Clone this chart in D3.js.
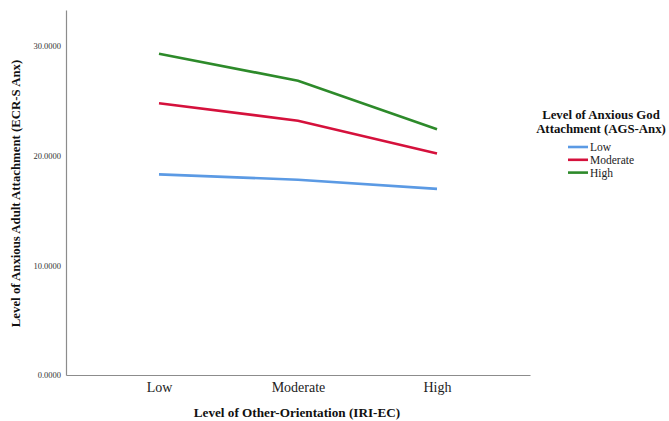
<!DOCTYPE html>
<html><head><meta charset="utf-8">
<script src="https://cdn.jsdelivr.net/npm/d3@7"></script>
<style>body{margin:0;background:#fff}svg{display:block}text{font-family:"Liberation Serif","Times New Roman",serif}</style>
</head><body>
<script>
const categories = ["Low", "Moderate", "High"];
const seriesNames = ["Low", "Moderate", "High"];
const lowValues = [18.3, 17.82, 16.98];
const moderateValues = [24.8, 23.2, 20.2];
const highValues = [29.3, 26.85, 22.42];
const yTicks = [0, 10, 20, 30];
const colors = ["#5b9ae4", "#d5113c", "#2d8a2a"];
const series = [lowValues, moderateValues, highValues];

const W = 669, H = 421;
const svg = d3.select("body").append("svg").attr("width", W).attr("height", H);
const mLeft = 66, mRight = 530, mTop = 10, mBottom = 375;

const x = d3.scalePoint().domain(categories).range([mLeft, mRight]).padding(0.669);
const y = d3.scaleLinear().domain([0, 33.3]).range([mBottom, mTop]);

// axes
const xAxis = d3.axisBottom(x).tickSize(0).tickPadding(7);
const gx = svg.append("g").attr("transform", `translate(0,${mBottom})`).call(xAxis);
gx.select(".domain").attr("stroke", "#8c8c8c").attr("stroke-width", 1.2);
gx.selectAll("text").attr("font-size", 14).attr("fill", "#222")
  .attr("font-family", "Liberation Serif, serif");

const yAxis = d3.axisLeft(y).tickValues(yTicks).tickSize(0).tickPadding(5)
  .tickFormat(d3.format(".4f"));
const gy = svg.append("g").attr("transform", `translate(${mLeft},0)`).call(yAxis);
gy.select(".domain").attr("stroke", "#8c8c8c").attr("stroke-width", 1.2);
gy.selectAll("text").attr("font-size", 8.5).attr("fill", "#333")
  .attr("font-family", "Liberation Serif, serif");

// lines
const line = d3.line().x((d, i) => x(categories[i])).y(d => y(d));
series.forEach((s, i) => {
  svg.append("path").datum(s).attr("d", line).attr("fill", "none")
    .attr("stroke", colors[i]).attr("stroke-width", 2.6);
});

// axis titles
svg.append("text").attr("x", 297).attr("y", 417).attr("text-anchor", "middle")
  .attr("font-size", 13.2).attr("font-weight", "bold").attr("fill", "#111")
  .text("Level of Other-Orientation (IRI-EC)");
svg.append("text").attr("transform", `translate(20,${(mTop + mBottom) / 2 + 1}) rotate(-90)`)
  .attr("text-anchor", "middle").attr("font-size", 12.8).attr("font-weight", "bold").attr("fill", "#111")
  .text("Level of Anxious Adult Attachment (ECR-S Anx)");

// legend
const lg = svg.append("g");
lg.append("text").attr("x", 601).attr("y", 119).attr("text-anchor", "middle")
  .attr("font-size", 12.8).attr("font-weight", "bold").attr("fill", "#111").text("Level of Anxious God");
lg.append("text").attr("x", 601).attr("y", 133).attr("text-anchor", "middle")
  .attr("font-size", 12.8).attr("font-weight", "bold").attr("fill", "#111").text("Attachment (AGS-Anx)");
seriesNames.forEach((n, i) => {
  const yy = 147 + i * 12.8;
  lg.append("line").attr("x1", 568).attr("x2", 588).attr("y1", yy).attr("y2", yy)
    .attr("stroke", colors[i]).attr("stroke-width", 2.6);
  lg.append("text").attr("x", 590).attr("y", yy + 4).attr("font-size", 11.5).attr("fill", "#222").text(n);
});
</script>
</body></html>
